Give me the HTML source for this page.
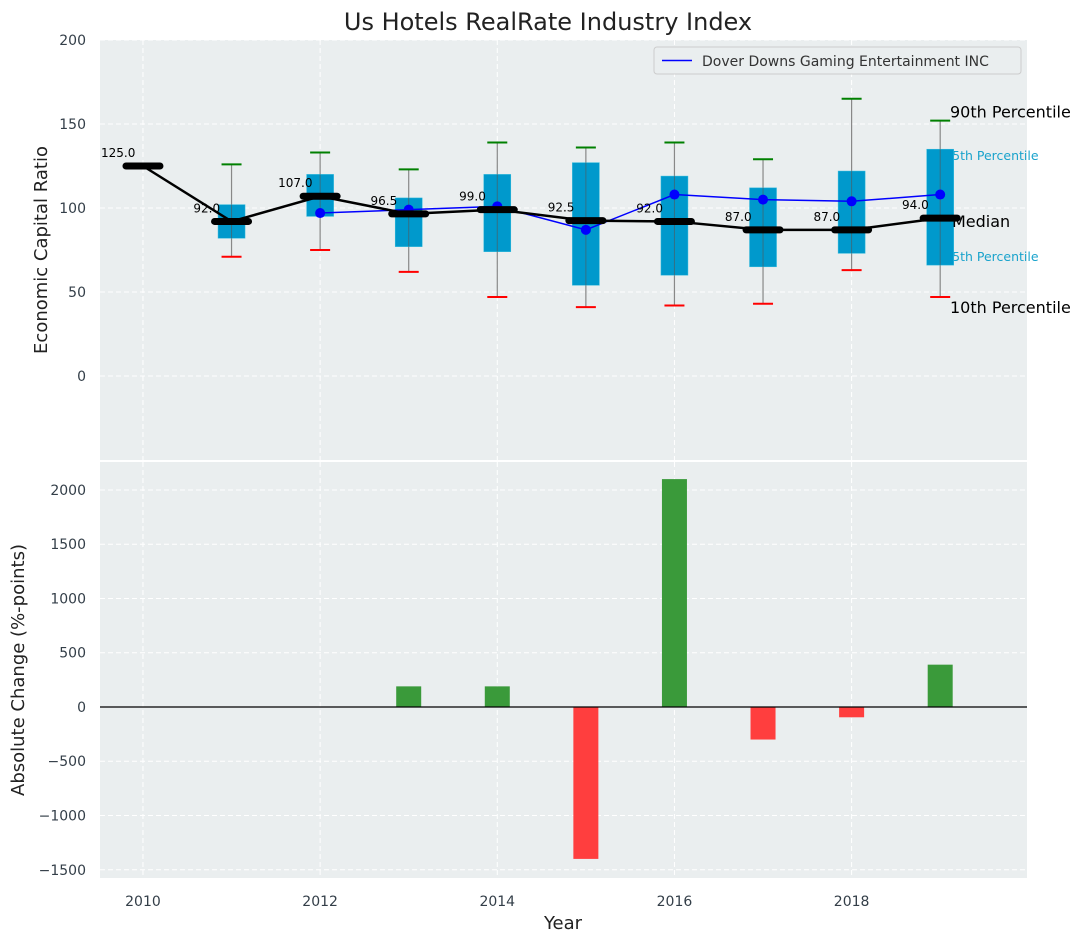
<!DOCTYPE html>
<html><head><meta charset="utf-8"><style>
body{margin:0;background:#fff;font-family:"DejaVu Sans","Liberation Sans",sans-serif;}
svg text{font-family:"DejaVu Sans","Liberation Sans",sans-serif;}
</style></head><body>
<svg id="c" width="1085" height="942" xmlns="http://www.w3.org/2000/svg"></svg>
<script>
const years=[2010,2011,2012,2013,2014,2015,2016,2017,2018,2019];
const medians=[125,92,107,96.5,99,92.5,92,87,87,94];
const boxYears=[2011,2012,2013,2014,2015,2016,2017,2018,2019];
const q1=[82,95,77,74,54,60,65,73,66];
const q3=[102,120,106,120,127,119,112,122,135];
const p10=[71,75,62,47,41,42,43,63,47];
const p90=[126,133,123,139,136,139,129,165,152];
const companyYears=[2012,2013,2014,2015,2016,2017,2018,2019];
const companyValues=[97,99,101,87,108,105,104,108];
const changeYears=[2013,2014,2015,2016,2017,2018,2019];
const changeValues=[190,190,-1400,2100,-300,-95,390];
const topTicks=[0,50,100,150,200];
const botTicks=[-1500,-1000,-500,0,500,1000,1500,2000];
const xTicks=[2010,2012,2014,2016,2018];

const svg=document.getElementById('c');
const NS='http://www.w3.org/2000/svg';
function mk(t,a,p){const e=document.createElementNS(NS,t);for(const k in a)e.setAttribute(k,a[k]);(p||svg).appendChild(e);return e;}
const L=100,R=1027;
const X=v=>L+(v-2009.515)/(2019.98-2009.515)*(R-L);
const T0=40,T1=460,B0=460,B1=878;
const Yt=v=>T1-(v+50)/250*(T1-T0);
const Yb=v=>B1-(v+1576)/(2276+1576)*(B1-B0);

let e=mk('rect',{x:L,y:T0,width:R-L,height:T1-T0,fill:'#eaeeef'});

e=mk('rect',{x:L,y:B0+2,width:R-L,height:B1-B0-2,fill:'#eaeeef'});

xTicks.forEach(v=>{
  mk('line',{x1:X(v),x2:X(v),y1:T0,y2:T1,stroke:'#fff','stroke-dasharray':'5,3','stroke-width':1});
  mk('line',{x1:X(v),x2:X(v),y1:B0+2,y2:B1,stroke:'#fff','stroke-dasharray':'5,3','stroke-width':1});
  e=mk('text',{x:X(v),y:906,'text-anchor':'middle','font-size':14,fill:'#333e48'});e.textContent=v;
  
});
topTicks.forEach(v=>{
  mk('line',{x1:L,x2:R,y1:Yt(v),y2:Yt(v),stroke:'#fff','stroke-dasharray':'5,3'});
  e=mk('text',{x:86,y:Yt(v)+5,'text-anchor':'end','font-size':14,fill:'#333e48'});e.textContent=v;
  
});
botTicks.forEach(v=>{
  mk('line',{x1:L,x2:R,y1:Yb(v),y2:Yb(v),stroke:'#fff','stroke-dasharray':'5,3'});
  e=mk('text',{x:86,y:Yb(v)+5,'text-anchor':'end','font-size':14,fill:'#333e48'});e.textContent=v.toString().replace('-','\u2212');
  
});
boxYears.forEach((y,i)=>{
  const x=X(y);
  mk('line',{x1:x,x2:x,y1:Yt(p90[i]),y2:Yt(p10[i]),stroke:'#888','stroke-width':1.2});
  e=mk('line',{x1:x-10,x2:x+10,y1:Yt(p90[i]),y2:Yt(p90[i]),stroke:'green','stroke-width':2});
  
  e=mk('line',{x1:x-10,x2:x+10,y1:Yt(p10[i]),y2:Yt(p10[i]),stroke:'red','stroke-width':2});
  
});
const ly=boxYears.length-1;
e=mk('text',{x:X(2019)+4,y:Yt(q3[ly])+11,'font-size':12.5,fill:'#1aa3cc'});e.textContent='75th Percentile';

e=mk('text',{x:X(2019)+4,y:Yt(q1[ly])-4,'font-size':12.5,fill:'#1aa3cc'});e.textContent='25th Percentile';

boxYears.forEach((y,i)=>{
  const x=X(y);
  e=mk('rect',{x:x-13.5,y:Yt(q3[i]),width:27,height:Yt(q1[i])-Yt(q3[i]),fill:'#0099cc',stroke:'#33bbdd','stroke-width':0.5});
  
  mk('line',{x1:x,x2:x,y1:Yt(q3[i]),y2:Yt(q1[i]),stroke:'#555','stroke-width':1,'stroke-opacity':0.6});
});
e=mk('polyline',{points:companyYears.map((y,i)=>X(y)+','+Yt(companyValues[i])).join(' '),fill:'none',stroke:'blue','stroke-width':1.5});

companyYears.forEach((y,i)=>{e=mk('circle',{cx:X(y),cy:Yt(companyValues[i]),r:5,fill:'blue'});
  });
e=mk('polyline',{points:years.map((y,i)=>X(y)+','+Yt(medians[i])).join(' '),fill:'none',stroke:'#000','stroke-width':2.5});

years.forEach((y,i)=>{
  e=mk('line',{x1:X(y)-17,x2:X(y)+17,y1:Yt(medians[i]),y2:Yt(medians[i]),stroke:'#000','stroke-width':7,'stroke-linecap':'round'});
  
  e=mk('text',{x:X(y-0.28),y:Yt(medians[i])-9,'text-anchor':'middle','font-size':12,fill:'#000'});e.textContent=medians[i].toFixed(1);
  
});
e=mk('text',{x:950,y:Yt(p90[ly])-3,'font-size':16,fill:'#000'});e.textContent='90th Percentile';

e=mk('text',{x:952,y:Yt(medians[ly])-3,'font-size':16,fill:'#000'});e.textContent='Median';

e=mk('text',{x:950,y:Yt(p10[ly])+16,'font-size':16,fill:'#000'});e.textContent='10th Percentile';

const lg=mk('g',{});
mk('rect',{x:654,y:47,width:367,height:27,rx:3,fill:'#eaeeef',stroke:'#ccc'},lg);
mk('line',{x1:662,x2:692,y1:60.5,y2:60.5,stroke:'blue','stroke-width':1.5},lg);
e=mk('text',{x:702,y:66,'font-size':14,fill:'#333'},lg);e.textContent='Dover Downs Gaming Entertainment INC';
changeYears.forEach((y,i)=>{
  const v=changeValues[i];
  e=mk('rect',{x:X(y)-12.5,y:Math.min(Yb(v),Yb(0)),width:25,height:Math.abs(Yb(v)-Yb(0)),fill:v>=0?'#3a9a3a':'#ff3e3e'});
  
});
e=mk('line',{x1:L,x2:R,y1:Yb(0),y2:Yb(0),stroke:'#000','stroke-width':1.2});

e=mk('text',{x:548,y:30,'text-anchor':'middle','font-size':24,fill:'#222'});e.textContent='Us Hotels RealRate Industry Index';

e=mk('text',{x:0,y:0,'text-anchor':'middle','font-size':18,fill:'#222',transform:'translate(47,250) rotate(-90)'});e.textContent='Economic Capital Ratio';

e=mk('text',{x:0,y:0,'text-anchor':'middle','font-size':18,fill:'#222',transform:'translate(24,670) rotate(-90)'});e.textContent='Absolute Change (%-points)';

e=mk('text',{x:563,y:929,'text-anchor':'middle','font-size':18,fill:'#222'});e.textContent='Year';

</script>
</body></html>
